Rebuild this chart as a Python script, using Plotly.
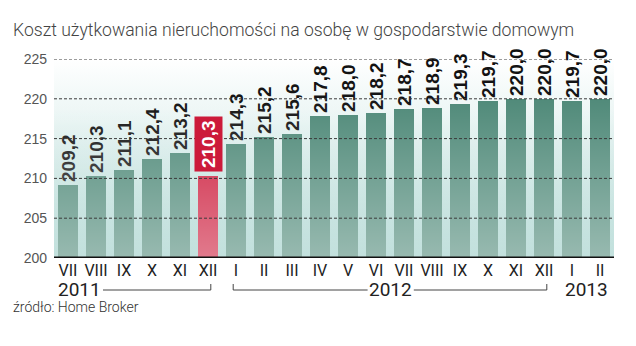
import base64
import plotly.graph_objects as go

# ---- data ----
months = ["VII", "VIII", "IX", "X", "XI", "XII",
          "I", "II", "III", "IV", "V", "VI", "VII", "VIII", "IX", "X", "XI", "XII",
          "I", "II"]
values = [209.2, 210.3, 211.1, 212.4, 213.2, 210.3,
          214.3, 215.2, 215.6, 217.8, 218.0, 218.2, 218.7, 218.9, 219.3, 219.7, 220.0, 220.0,
          219.7, 220.0]
highlight_index = 5
years = ["2011", "2012", "2013"]
year_spans = [(0, 5), (6, 17), (18, 19)]
y_ticks = [200, 205, 210, 215, 220, 225]
title = "Koszt użytkowania nieruchomości na osobę w gospodarstwie domowym"
source = "źródło: Home Broker"

labels = [f"{v:.1f}".replace(".", ",") for v in values]
xs = list(range(len(values)))

GREEN = "#4d8877"
RED = "#cc1a3a"
COND = "Roboto, Liberation Sans, sans-serif"
SANS = "Liberation Sans, Arial, sans-serif"

colors = [RED if i == highlight_index else GREEN for i in xs]
bar_text = ["" if i == highlight_index else labels[i] for i in xs]

# plot area in pixels (for placing figure-level texts)
L, R, T, B = 54, 614, 59, 258


def px_x(px):
    return (px - L) / (R - L)


def px_y(py):
    return (B - py) / (B - T)


def svg_uri(stops):
    st = "".join(f'<stop offset="{o}" stop-color="{c}" stop-opacity="{a}"/>' for o, c, a in stops)
    svg = ('<svg xmlns="http://www.w3.org/2000/svg" width="100" height="100" preserveAspectRatio="none">'
           '<defs><linearGradient id="g" x1="0" y1="0" x2="0" y2="1">' + st +
           '</linearGradient></defs><rect width="100" height="100" fill="url(#g)"/></svg>')
    return "data:image/svg+xml;base64," + base64.b64encode(svg.encode()).decode()


bg_uri = svg_uri([(0, "#ffffff", 1), (0.25, "#eef7f6", 1), (1, "#97cbc5", 1)])
ov_uri = svg_uri([(0, "#ffffff", 0), (0.2, "#ffffff", 0.02), (1, "#ffffff", 0.42)])

fig = go.Figure()
fig.add_trace(go.Bar(
    x=xs, y=[v - 200 for v in values], base=200,
    marker=dict(color=colors, line=dict(width=0)),
    width=0.72,
    text=bar_text, textposition="outside", textangle=-90,
    textfont=dict(family=SANS, size=19, color="#111", weight="bold"),
    constraintext="none", cliponaxis=False, hoverinfo="skip",
))

shapes = []
for t in y_ticks[1:]:
    shapes.append(dict(type="line", xref="paper", yref="y", x0=0, x1=1, y0=t, y1=t,
                       line=dict(color="#3a3a3a", width=1, dash="3px,2px"), layer="above"))
shapes.append(dict(type="line", xref="paper", yref="y", x0=0, x1=1, y0=200, y1=200,
                   line=dict(color="#111", width=3), layer="above"))

# year brackets
yb = px_y(290)
yt = px_y(284)
brk = dict(color="#444", width=1)
shapes.append(dict(type="path", xref="x", yref="paper",
                   path=f"M 1.25 {yb} L {year_spans[0][1] + 0.1} {yb} L {year_spans[0][1] + 0.1} {yt}",
                   line=brk))
shapes.append(dict(type="path", xref="x", yref="paper",
                   path=f"M {year_spans[1][0] - 0.1} {yt} L {year_spans[1][0] - 0.1} {yb} L 10.7 {yb}",
                   line=brk))
shapes.append(dict(type="path", xref="x", yref="paper",
                   path=f"M 12.35 {yb} L {year_spans[1][1] + 0.1} {yb} L {year_spans[1][1] + 0.1} {yt}",
                   line=brk))

annotations = []
annotations.append(dict(x=highlight_index, y=values[highlight_index], xref="x", yref="y",
                        text=labels[highlight_index], textangle=-90, showarrow=False,
                        yanchor="bottom", yshift=4, bgcolor=RED, borderpad=3,
                        font=dict(family=SANS, size=19, color="white", weight="bold")))
year_x = [0.4, 11.5, 18.5]
for yx, yr in zip(year_x, years):
    annotations.append(dict(x=yx, y=px_y(289), xref="x", yref="paper", text=yr, showarrow=False,
                            xanchor="center", yanchor="middle",
                            font=dict(family=COND, size=19, color="#222")))
annotations.append(dict(x=px_x(11), y=px_y(30), xref="paper", yref="paper", text=title,
                        showarrow=False, xanchor="left", yanchor="middle",
                        font=dict(family=COND, size=17.6, color="#444", weight=300)))
annotations.append(dict(x=px_x(11), y=px_y(307), xref="paper", yref="paper", text=source,
                        showarrow=False, xanchor="left", yanchor="middle",
                        font=dict(family=COND, size=14, color="#333", weight=300)))

fig.update_layout(
    width=636, height=346,
    margin=dict(l=L, r=636 - R, t=T, b=346 - B),
    paper_bgcolor="white", plot_bgcolor="rgba(0,0,0,0)",
    showlegend=False, bargap=0,
    shapes=shapes, annotations=annotations,
    images=[
        dict(source=bg_uri, xref="paper", yref="paper", x=0, y=1, sizex=1, sizey=1,
             xanchor="left", yanchor="top", sizing="stretch", layer="below"),
        dict(source=ov_uri, xref="paper", yref="paper", x=0, y=1, sizex=1, sizey=1,
             xanchor="left", yanchor="top", sizing="stretch", layer="above"),
    ],
    xaxis=dict(range=[-0.5, len(values) - 0.5], tickvals=xs, ticktext=months,
               showgrid=False, zeroline=False, showline=False, ticks="",
               ticklabelstandoff=1,
               tickfont=dict(family=COND, size=16, color="#222")),
    yaxis=dict(range=[200, 225], tickvals=y_ticks, showgrid=False, zeroline=False,
               showline=False, ticks="", ticklabelstandoff=6,
               tickfont=dict(family=SANS, size=14, color="#555")),
)

fig.write_html("out.html")
